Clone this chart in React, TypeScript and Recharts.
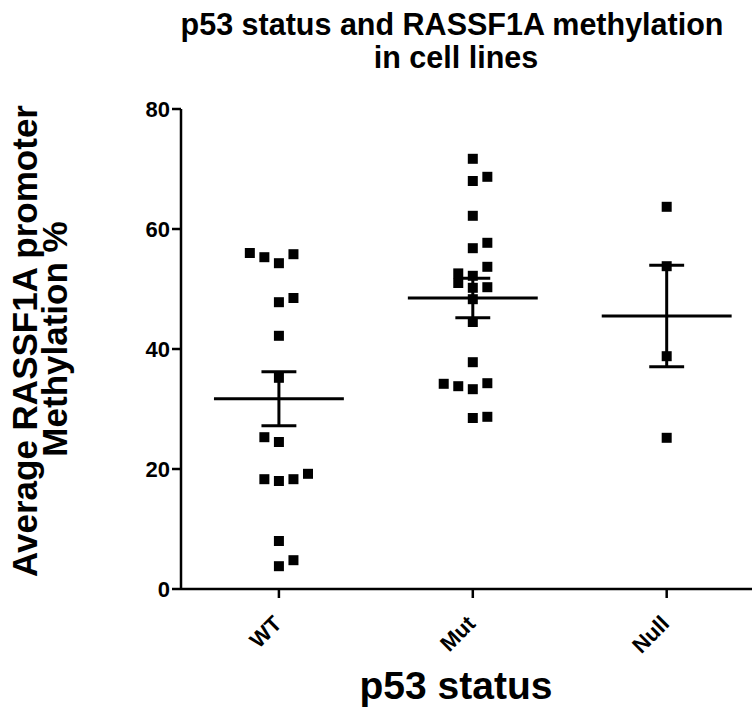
import React from 'react';
import { ScatterChart, Scatter, XAxis, YAxis, ReferenceLine } from 'recharts';

const categories = ['WT', 'Mut', 'Null'];

const wtValues = [56.0, 55.3, 54.3, 55.8, 47.8, 48.5, 42.2, 35.2, 25.3, 24.5, 18.3, 18.0, 18.3, 19.2, 8.0, 3.8, 4.8];
const wtSlots = [-2, -1, 0, 1, 0, 1, 0, 0, -1, 0, -1, 0, 1, 2, 0, 0, 1];

const mutValues = [71.7, 68.0, 68.7, 62.2, 56.8, 57.7, 53.7, 52.6, 52.2, 51.0, 50.2, 50.3, 48.3, 44.5, 37.8, 34.2, 33.8, 33.3, 34.3, 28.5, 28.7];
const mutSlots = [0, 0, 1, 0, 0, 1, 1, -1, 0, -1, 0, 1, 0, 0, 0, -2, -1, 0, 1, 0, 1];

const nullValues = [63.7, 53.8, 38.8, 25.2];
const nullSlots = [0, 0, 0, 0];

const groupMeans = [31.7, 48.5, 45.5];
const groupSems = [4.5, 3.3, 8.45];

const yTicks = [0, 20, 40, 60, 80];

const SLOT = 0.075;
const MEAN_HALF = 0.335;
const CAP_HALF = 0.09;
const FONT = 'Liberation Sans, Arial, Helvetica, sans-serif';

const groups = [
  { values: wtValues, slots: wtSlots },
  { values: mutValues, slots: mutSlots },
  { values: nullValues, slots: nullSlots },
];

const points = groups.flatMap((g, gi) =>
  g.values.map((v, k) => ({ x: gi + g.slots[k] * SLOT, y: v }))
);

const SquareShape = (props: any) => {
  const { cx, cy } = props;
  if (cx == null || cy == null) return null;
  return <rect x={cx - 5} y={cy - 5} width={10} height={10} fill="#000" />;
};

const XTick = (props: any) => {
  const { x, y, payload } = props;
  const ax = x + 4;
  const ay = y + 25;
  return (
    <text
      x={ax}
      y={ay}
      transform={`rotate(-45, ${ax}, ${ay})`}
      textAnchor="end"
      fontFamily={FONT}
      fontWeight="bold"
      fontSize={22}
      fill="#000"
    >
      {categories[payload.value]}
    </text>
  );
};

export default function App() {
  const lineProps = { stroke: '#000', strokeWidth: 3, ifOverflow: 'visible' as const };
  return (
    <div style={{ position: 'absolute', left: 0, top: 0, width: 752, height: 709, background: '#fff' }}>
      <ScatterChart
        width={752}
        height={709}
        margin={{ top: 109, right: 0, bottom: 0, left: 0 }}
      >
        <XAxis
          type="number"
          dataKey="x"
          domain={[-0.505, 2.44]}
          ticks={[0, 1, 2]}
          allowDataOverflow
          height={120}
          axisLine={{ stroke: '#000', strokeWidth: 2.5 }}
          tickLine={{ stroke: '#000', strokeWidth: 2.5 }}
          tickSize={9}
          tick={<XTick />}
          interval={0}
        />
        <YAxis
          type="number"
          dataKey="y"
          domain={[0, 80]}
          ticks={yTicks}
          width={181}
          axisLine={{ stroke: '#000', strokeWidth: 2.5 }}
          tickLine={{ stroke: '#000', strokeWidth: 2.5 }}
          tickSize={9}
          tickMargin={2}
          tick={{ fill: '#000', fontFamily: FONT, fontWeight: 'bold', fontSize: 22 }}
        />
        <Scatter data={points} shape={<SquareShape />} isAnimationActive={false} />
        {groupMeans.map((m, i) => (
          <ReferenceLine
            key={`mean-${i}`}
            segment={[{ x: i - MEAN_HALF, y: m }, { x: i + MEAN_HALF, y: m }]}
            {...lineProps}
          />
        ))}
        {groupMeans.map((m, i) => (
          <ReferenceLine
            key={`err-${i}`}
            segment={[{ x: i, y: m - groupSems[i] }, { x: i, y: m + groupSems[i] }]}
            {...lineProps}
          />
        ))}
        {groupMeans.map((m, i) => (
          <ReferenceLine
            key={`capu-${i}`}
            segment={[{ x: i - CAP_HALF, y: m + groupSems[i] }, { x: i + CAP_HALF, y: m + groupSems[i] }]}
            {...lineProps}
          />
        ))}
        {groupMeans.map((m, i) => (
          <ReferenceLine
            key={`capl-${i}`}
            segment={[{ x: i - CAP_HALF, y: m - groupSems[i] }, { x: i + CAP_HALF, y: m - groupSems[i] }]}
            {...lineProps}
          />
        ))}
      </ScatterChart>
      <svg
        width={752}
        height={709}
        style={{ position: 'absolute', left: 0, top: 0, pointerEvents: 'none' }}
      >
        <g fontFamily={FONT} fontWeight="bold" fill="#000">
          <text x={452} y={35} textAnchor="middle" fontSize={30.5}>
            p53 status and RASSF1A methylation
          </text>
          <text x={456} y={68} textAnchor="middle" fontSize={30.5}>
            in cell lines
          </text>
          <text x={456} y={699} textAnchor="middle" fontSize={39}>
            p53 status
          </text>
          <text x={37} y={341} textAnchor="middle" fontSize={35} transform="rotate(-90, 37, 341)">
            Average RASSF1A promoter
          </text>
          <text x={67} y={339} textAnchor="middle" fontSize={35} transform="rotate(-90, 67, 339)">
            Methylation %
          </text>
        </g>
      </svg>
    </div>
  );
}
